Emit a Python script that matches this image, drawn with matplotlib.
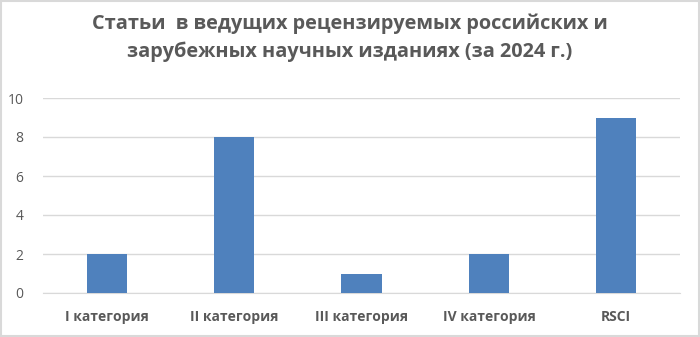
import matplotlib
matplotlib.use("Agg")
import matplotlib.pyplot as plt
from matplotlib.patches import Rectangle

categories = ["I категория", "II категория", "III категория", "IV категория", "RSCI"]
values = [2, 8, 1, 2, 9]
yticks = [0, 2, 4, 6, 8, 10]
title = "Статьи  в ведущих рецензируемых российских и\nзарубежных научных изданиях (за 2024 г.)"

plt.rcParams['font.family'] = ['Open Sans', 'DejaVu Sans']

fig = plt.figure(figsize=(7.0, 3.37), dpi=100)
ax = fig.add_axes([43/700, (337-293)/337, (680-43)/700, (293-98)/337])

x = list(range(len(categories)))
ax.bar(x, values, width=0.315, color="#4F81BD", zorder=3)
ax.set_xlim(-0.5, len(categories) - 0.5)
ax.set_ylim(0, 10)
ax.set_yticks(yticks)
ax.set_yticklabels([str(t) for t in yticks], fontsize=10, color="#595959")
ax.set_xticks(x)
ax.set_xticklabels(categories, fontsize=10, color="#595959", fontweight="bold")
ax.tick_params(axis="both", length=0)
ax.tick_params(axis="x", pad=12)
ax.tick_params(axis="y", pad=14)
ax.grid(axis="y", color="#D9D9D9", linewidth=1, zorder=0)
for s in ["top", "right", "left"]:
    ax.spines[s].set_visible(False)
ax.spines["bottom"].set_color("#D9D9D9")

fig.text(0.5, 1 - 38/337, title, ha="center", va="center", fontsize=14.3,
         fontweight="bold", color="#595959", linespacing=1.5)

fig.patches.append(Rectangle((1/700, 1/337), 698/700, 335/337, transform=fig.transFigure,
                             fill=False, edgecolor="#D9D9D9", linewidth=1.5))

fig.savefig("out.png", dpi=100)
